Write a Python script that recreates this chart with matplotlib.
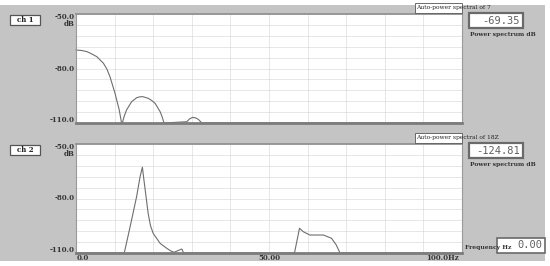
import numpy as np
import matplotlib
matplotlib.use("Agg")
import matplotlib.pyplot as plt
from matplotlib.patches import Rectangle

# ch 1 power spectrum (Hz, dB)
freq1 = [0, 1.5, 2.8, 4.0, 5.4, 7.1, 8.0, 8.8, 10.1, 11.2, 11.8, 12.0, 12.5,
         13.1, 14.4, 15.7, 16.5, 17.3, 18.7, 19.6, 20.5, 21.8, 22.3, 22.8,
         28.7, 29.4, 30.2, 31.0, 31.7, 32.6, 100]
db1 = [-69.8, -70.1, -70.7, -71.9, -73.5, -77.1, -80.3, -84.5, -93.6, -102.8,
       -110, -110, -106.2, -102.8, -98.3, -96.1, -95.6, -95.5, -96.4, -97.6,
       -99.2, -103.8, -106.5, -110, -109.3, -107.8, -106.9, -107.2, -108,
       -110, -110]

# ch 2 power spectrum (Hz, dB)
freq2 = [0, 12.5, 13.5, 14.4, 15.7, 16.6, 17.2, 17.6, 18.7, 19.3, 20.0, 21.8,
         23.5, 24.5, 25.4, 27.4, 27.9, 56.6, 57.9, 58.9, 60.6, 64.1, 66.2,
         67.4, 68.4, 100]
db2 = [-110, -110, -100.5, -91.8, -79.0, -68.0, -62.8, -69.8, -88.3, -95.0,
       -99.2, -104.7, -107.4, -108.8, -109.6, -107.8, -110, -110, -96.4,
       -98.3, -100.1, -100.1, -101.9, -105.5, -110, -110]

channels = ["ch 1", "ch 2"]
titles = ["Auto-power spectral of 7", "Auto-power spectral of 18Z"]
readouts = ["-69.35", "-124.81"]
y_labels = ["-50.0", "-80.0", "-110.0"]

W, H = 550, 266
fig = plt.figure(figsize=(W / 100, H / 100), dpi=100)
fig.patch.set_facecolor("white")

serif = "DejaVu Serif"
gray_bg = "#c4c4c4"
line_c = "#6e6e6e"


def fx(px):
    return px / W


def fy(py):
    return 1 - py / H


def box(x0, y0, x1, y1, fc="white", ec="#555555", lw=0.8, z=3):
    r = Rectangle((fx(x0), fy(y1)), fx(x1 - x0), (y1 - y0) / H,
                  transform=fig.transFigure, fc=fc, ec=ec, lw=lw, zorder=z)
    fig.add_artist(r)


# window background
box(0, 5, 545, 261, fc=gray_bg, ec="none", z=-5)

panels = [(14, 123), (144, 253)]
data = [(freq1, db1), (freq2, db2)]

for i, (top, bot) in enumerate(panels):
    ax = fig.add_axes([fx(76), fy(bot), fx(462 - 76), (bot - top) / H])
    ax.set_zorder(1)
    f, d = data[i]
    ax.plot(f, d, color=line_c, lw=0.8, clip_on=False)
    ax.set_xlim(0, 100)
    ax.set_ylim(-110, -50)
    ax.set_xticks(np.arange(0, 101, 10))
    ax.set_yticks(np.arange(-110, -49, 6))
    ax.grid(True, color="#c8c8c8", ls=(0, (1.2, 1.2)), lw=0.6)
    ax.tick_params(length=0, labelbottom=False, labelleft=False)
    for s in ["left", "right"]:
        ax.spines[s].set_color("#9a9a9a")
        ax.spines[s].set_linewidth(0.8)
    ax.spines["top"].set_color("#8c8c8c")
    ax.spines["top"].set_linewidth(1.2)
    ax.spines["bottom"].set_color("#7c7c7c")
    ax.spines["bottom"].set_linewidth(2.0)

    # y labels
    for lab, yp in zip(y_labels, [top + 3, (top + bot) / 2, bot - 3]):
        fig.text(fx(75), fy(yp), lab, ha="right", va="center", fontsize=5,
                 family=serif, weight="bold", color="#333333")
    fig.text(fx(75), fy(top + 10), "dB", ha="right", va="center", fontsize=5,
             family=serif, weight="bold", color="#333333")

    # channel tag
    box(10, top + 1, 40, top + 11, lw=0.9)
    fig.text(fx(25), fy(top + 6), channels[i], ha="center", va="center",
             fontsize=5, family=serif, weight="bold", color="#222222",
             zorder=4)

    # title tag over top-right corner
    box(415, top - 11, 462, top - 1, lw=0.6)
    fig.text(fx(416), fy(top - 6), titles[i], ha="left", va="center",
             fontsize=4.3, family=serif, color="#222222", zorder=4)

    # readout
    box(469, top - 1, 523, top + 14, ec="#6a6a6a", lw=1.6)
    fig.text(fx(520), fy(top + 6.5), readouts[i], ha="right", va="center",
             fontsize=7.5, family="DejaVu Sans Mono", color="#606060",
             zorder=4)
    fig.text(fx(470), fy(top + 20.5), "Power spectrum dB", ha="left",
             va="center", fontsize=4.3, family=serif, weight="bold",
             color="#333333")

# frequency readout
fig.text(fx(465), fy(248), "Frequency Hz", ha="left", va="center",
         fontsize=4.3, family=serif, weight="bold", color="#333333")
box(497, 238, 545, 253, ec="#6a6a6a", lw=1.2)
fig.text(fx(542), fy(245.5), "0.00", ha="right", va="center", fontsize=7.5,
         family="DejaVu Sans Mono", color="#606060", zorder=4)

# x labels
fig.text(fx(77), fy(257.5), "0.0", ha="left", va="center", fontsize=5,
         family=serif, weight="bold", color="#333333")
fig.text(fx(269), fy(257.5), "50.00", ha="center", va="center", fontsize=5,
         family=serif, weight="bold", color="#333333")
fig.text(fx(459), fy(257.5), "100.0Hz", ha="right", va="center", fontsize=5,
         family=serif, weight="bold", color="#333333")

fig.savefig("out.png", dpi=100, facecolor=fig.get_facecolor())
